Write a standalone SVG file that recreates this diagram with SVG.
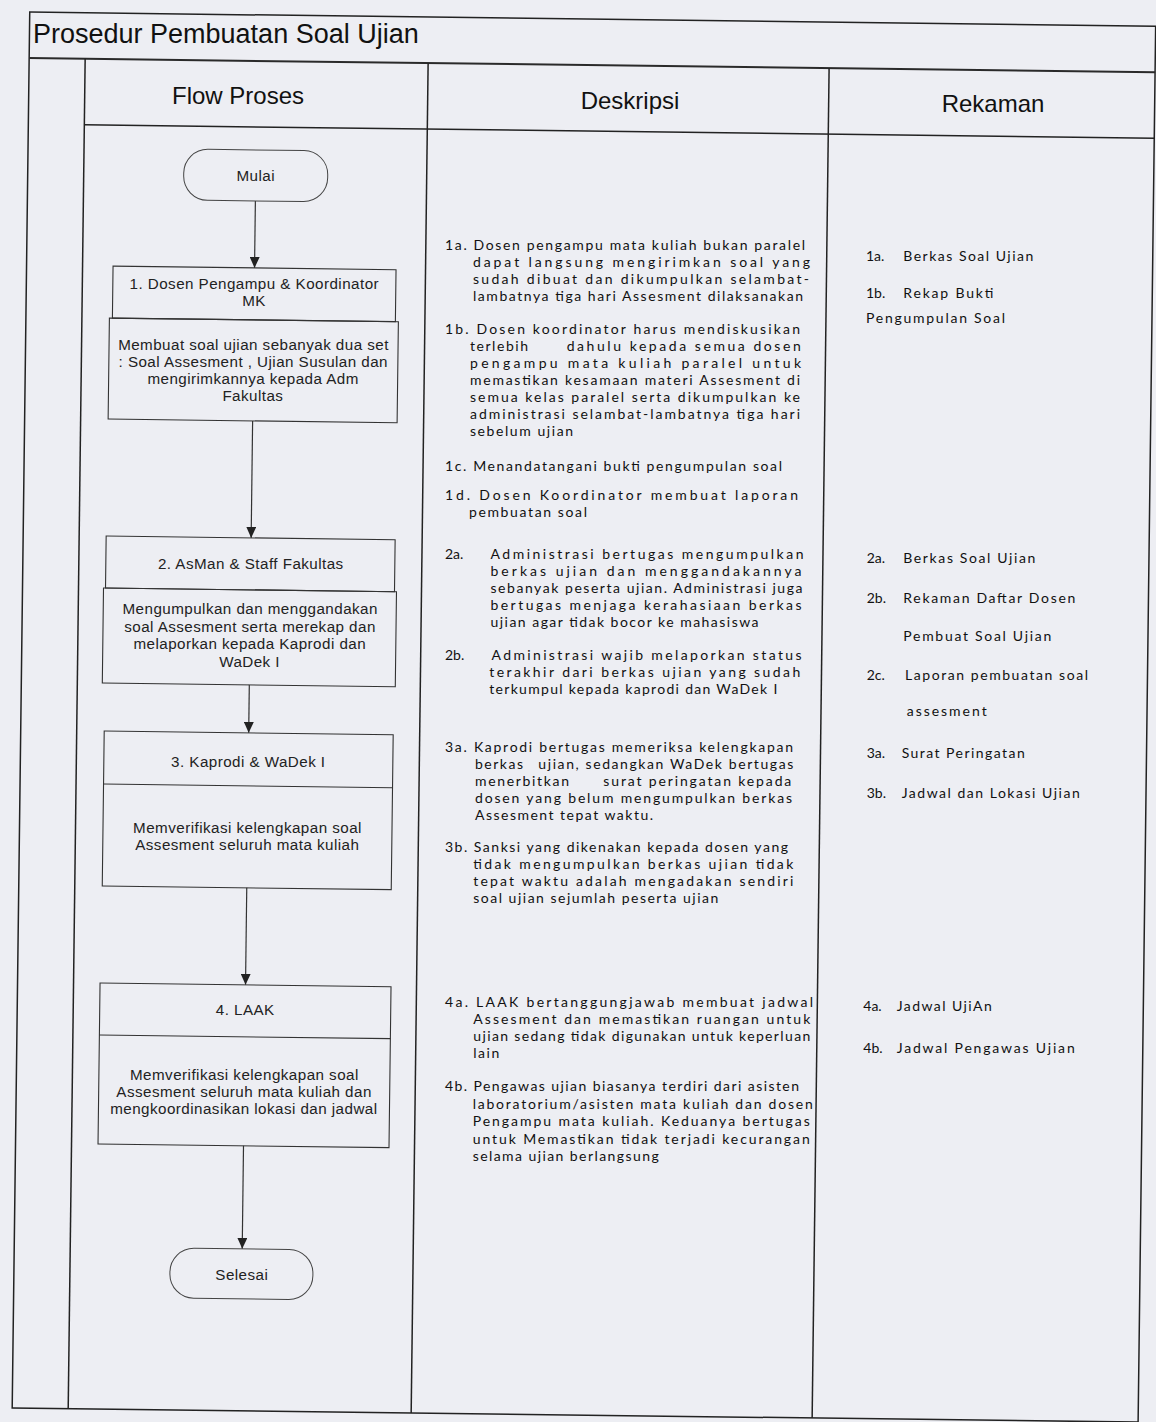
<svg xmlns="http://www.w3.org/2000/svg" width="1156" height="1422" viewBox="0 0 1156 1422">
<style>
.frame{stroke:#222;stroke-width:1.5;fill:none}
.thick{stroke:#2a2a2a;stroke-width:2;fill:none}
.box{fill:none;stroke:#333;stroke-width:1.1}
.term{fill:none;stroke:#444;stroke-width:1}
.ft{font-family:"Liberation Sans",Arial,sans-serif;font-size:15.2px;letter-spacing:0.45px;fill:#222;text-anchor:middle}
.hd{font-family:"Liberation Sans",Arial,sans-serif;font-size:24px;fill:#111;text-anchor:middle}
.ti{font-family:"Liberation Sans",Arial,sans-serif;font-size:27px;fill:#111}
.ds{font-family:Lato,"Open Sans",sans-serif;font-size:14px;fill:#111}
.conn{stroke:#333;stroke-width:1.2;fill:none;marker-end:url(#ah)}
</style>
<defs>
<marker id="ah" markerUnits="userSpaceOnUse" viewBox="0 0 11 10" markerWidth="11" markerHeight="10" refX="11" refY="5" orient="auto">
<path d="M0,0 L11,5 L0,10 z" fill="#222"/>
</marker>
</defs>
<rect x="0" y="0" width="1156" height="1422" fill="#edeef3"/>
<g id="frame">
<g transform="rotate(0.72 578 711)">
<rect class="frame" x="21" y="19" width="1126" height="1396"/>
<line class="thick" x1="21" y1="65" x2="1147" y2="65"/>
<line class="frame" x1="77" y1="65" x2="77" y2="1415"/>
<line class="frame" x1="420" y1="65" x2="420" y2="1415"/>
<line class="frame" x1="821" y1="65" x2="821" y2="1415"/>
<line class="frame" x1="77" y1="131" x2="1147" y2="131"/>
</g>
<text class="ti" x="33" y="43">Prosedur Pembuatan Soal Ujian</text>
<text class="hd" x="238" y="103.5">Flow Proses</text>
<text class="hd" x="630" y="108.5">Deskripsi</text>
<text class="hd" x="993" y="112">Rekaman</text>
</g>
<g id="connectors" transform="rotate(0.72 578 711)">
<line class="conn" x1="249" y1="205" x2="249" y2="272"/>
<line class="conn" x1="249" y1="425" x2="249" y2="542"/>
<line class="conn" x1="249" y1="689" x2="249" y2="737"/>
<line class="conn" x1="249" y1="892" x2="249" y2="989"/>
<line class="conn" x1="249" y1="1150" x2="249" y2="1253"/>
</g>
<g id="node-mulai">
<rect class="term" x="177" y="154" width="144" height="51" rx="24" transform="rotate(0.72 578 711)"/>
<text class="ft" x="255.7" y="181">Mulai</text>
</g>
<g id="node-1">
<g transform="rotate(0.72 578 711)">
<rect class="box" x="107.5" y="272" width="283" height="52"/>
<rect class="box" x="104.5" y="324" width="289" height="101"/>
</g>
<text class="ft" x="254.3" y="289">1. Dosen Pengampu &amp; Koordinator</text>
<text class="ft" x="254.1" y="306">MK</text>
<text class="ft" x="253.5" y="350">Membuat soal ujian sebanyak dua set</text>
<text class="ft" x="253.3" y="367">: Soal Assesment , Ujian Susulan dan</text>
<text class="ft" x="253.1" y="384">mengirimkannya kepada Adm</text>
<text class="ft" x="252.9" y="401">Fakultas</text>
</g>
<g id="node-2">
<g transform="rotate(0.72 578 711)">
<rect class="box" x="104" y="542" width="289" height="52"/>
<rect class="box" x="102" y="594" width="293" height="95"/>
</g>
<text class="ft" x="250.8" y="569">2. AsMan &amp; Staff Fakultas</text>
<text class="ft" x="250.2" y="614">Mengumpulkan dan menggandakan</text>
<text class="ft" x="250" y="631.7">soal Assesment serta merekap dan</text>
<text class="ft" x="249.8" y="649.3">melaporkan kepada Kaprodi dan</text>
<text class="ft" x="249.6" y="667">WaDek I</text>
</g>
<g id="node-3">
<g transform="rotate(0.72 578 711)">
<rect class="box" x="104.5" y="737" width="289" height="155"/>
<line class="box" x1="104.5" y1="790" x2="393.5" y2="790"/>
</g>
<text class="ft" x="248.3" y="767">3. Kaprodi &amp; WaDek I</text>
<text class="ft" x="247.5" y="833">Memverifikasi kelengkapan soal</text>
<text class="ft" x="247.3" y="850">Assesment seluruh mata kuliah</text>
</g>
<g id="node-4">
<g transform="rotate(0.72 578 711)">
<rect class="box" x="103.5" y="989" width="291" height="161"/>
<line class="box" x1="103.5" y1="1041" x2="394.5" y2="1041"/>
</g>
<text class="ft" x="245.2" y="1015">4. LAAK</text>
<text class="ft" x="244.4" y="1080">Memverifikasi kelengkapan soal</text>
<text class="ft" x="244.1" y="1097">Assesment seluruh mata kuliah dan</text>
<text class="ft" x="243.9" y="1114">mengkoordinasikan lokasi dan jadwal</text>
</g>
<g id="node-selesai">
<rect class="term" x="177" y="1253" width="143" height="50" rx="24" transform="rotate(0.72 578 711)"/>
<text class="ft" x="241.8" y="1280">Selesai</text>
</g>
<g id="deskripsi">
<text class="ds" x="445" y="249.5" textLength="360" lengthAdjust="spacing">1a. Dosen pengampu mata kuliah bukan paralel</text>
<text class="ds" x="473" y="266.7" textLength="337" lengthAdjust="spacing">dapat langsung mengirimkan soal yang</text>
<text class="ds" x="473" y="284" textLength="336" lengthAdjust="spacing">sudah dibuat dan dikumpulkan selambat-</text>
<text class="ds" x="473" y="301.2" textLength="330" lengthAdjust="spacing">lambatnya tiga hari Assesment dilaksanakan</text>
<text class="ds" x="445" y="334.3" textLength="355" lengthAdjust="spacing">1b. Dosen koordinator harus mendiskusikan</text>
<text class="ds" x="470" y="351.3" textLength="58" lengthAdjust="spacing">terlebih</text>
<text class="ds" x="566.7" y="351.3" textLength="234" lengthAdjust="spacing">dahulu kepada semua dosen</text>
<text class="ds" x="470" y="368.3" textLength="331" lengthAdjust="spacing">pengampu mata kuliah paralel untuk</text>
<text class="ds" x="470" y="385.3" textLength="330" lengthAdjust="spacing">memastikan kesamaan materi Assesment di</text>
<text class="ds" x="470" y="402.3" textLength="330" lengthAdjust="spacing">semua kelas paralel serta dikumpulkan ke</text>
<text class="ds" x="470" y="419.3" textLength="330" lengthAdjust="spacing">administrasi selambat-lambatnya tiga hari</text>
<text class="ds" x="470" y="436.3" textLength="103" lengthAdjust="spacing">sebelum ujian</text>
<text class="ds" x="445" y="471.2" textLength="337" lengthAdjust="spacing">1c. Menandatangani bukti pengumpulan soal</text>
<text class="ds" x="445" y="500" textLength="353" lengthAdjust="spacing">1d. Dosen Koordinator membuat laporan</text>
<text class="ds" x="469" y="517" textLength="118" lengthAdjust="spacing">pembuatan soal</text>
<text class="ds" x="445" y="559.3">2a.</text>
<text class="ds" x="490.5" y="559.3" textLength="313" lengthAdjust="spacing">Administrasi bertugas mengumpulkan</text>
<text class="ds" x="490.5" y="576.3" textLength="311" lengthAdjust="spacing">berkas ujian dan menggandakannya</text>
<text class="ds" x="490.5" y="593.3" textLength="312" lengthAdjust="spacing">sebanyak peserta ujian. Administrasi juga</text>
<text class="ds" x="490.5" y="610.3" textLength="311" lengthAdjust="spacing">bertugas menjaga kerahasiaan berkas</text>
<text class="ds" x="490.5" y="627.3" textLength="268" lengthAdjust="spacing">ujian agar tidak bocor ke mahasiswa</text>
<text class="ds" x="445" y="659.5">2b.</text>
<text class="ds" x="491.5" y="659.5" textLength="310" lengthAdjust="spacing">Administrasi wajib melaporkan status</text>
<text class="ds" x="489.3" y="676.7" textLength="311" lengthAdjust="spacing">terakhir dari berkas ujian yang sudah</text>
<text class="ds" x="489.3" y="693.8" textLength="288" lengthAdjust="spacing">terkumpul kepada kaprodi dan WaDek I</text>
<text class="ds" x="445" y="752.2" textLength="348" lengthAdjust="spacing">3a. Kaprodi bertugas memeriksa kelengkapan</text>
<text class="ds" x="475" y="769.2" textLength="48" lengthAdjust="spacing">berkas</text>
<text class="ds" x="538.3" y="769.2" textLength="255" lengthAdjust="spacing">ujian, sedangkan WaDek bertugas</text>
<text class="ds" x="475" y="786.2" textLength="94" lengthAdjust="spacing">menerbitkan</text>
<text class="ds" x="603.3" y="786.2" textLength="188" lengthAdjust="spacing">surat peringatan kepada</text>
<text class="ds" x="475" y="803.2" textLength="317" lengthAdjust="spacing">dosen yang belum mengumpulkan berkas</text>
<text class="ds" x="475" y="820.2" textLength="178" lengthAdjust="spacing">Assesment tepat waktu.</text>
<text class="ds" x="445" y="852.3" textLength="343" lengthAdjust="spacing">3b. Sanksi yang dikenakan kepada dosen yang</text>
<text class="ds" x="473.3" y="869.3" textLength="320" lengthAdjust="spacing">tidak mengumpulkan berkas ujian tidak</text>
<text class="ds" x="473.3" y="886.3" textLength="320" lengthAdjust="spacing">tepat waktu adalah mengadakan sendiri</text>
<text class="ds" x="473.3" y="903.3" textLength="245" lengthAdjust="spacing">soal ujian sejumlah peserta ujian</text>
<text class="ds" x="445" y="1007.3" textLength="368" lengthAdjust="spacing">4a. LAAK bertanggungjawab membuat jadwal</text>
<text class="ds" x="473.3" y="1024.3" textLength="337" lengthAdjust="spacing">Assesment dan memastikan ruangan untuk</text>
<text class="ds" x="473.3" y="1041.3" textLength="337" lengthAdjust="spacing">ujian sedang tidak digunakan untuk keperluan</text>
<text class="ds" x="473.3" y="1058.3" textLength="26" lengthAdjust="spacing">lain</text>
<text class="ds" x="445" y="1091.2" textLength="354" lengthAdjust="spacing">4b. Pengawas ujian biasanya terdiri dari asisten</text>
<text class="ds" x="472.7" y="1108.7" textLength="340" lengthAdjust="spacing">laboratorium/asisten mata kuliah dan dosen</text>
<text class="ds" x="472.7" y="1126.2" textLength="337" lengthAdjust="spacing">Pengampu mata kuliah. Keduanya bertugas</text>
<text class="ds" x="472.7" y="1143.7" textLength="337" lengthAdjust="spacing">untuk Memastikan tidak terjadi kecurangan</text>
<text class="ds" x="472.7" y="1161.2" textLength="186" lengthAdjust="spacing">selama ujian berlangsung</text>
</g>
<g id="rekaman">
<text class="ds" x="866" y="260.5">1a.</text>
<text class="ds" x="903.3" y="260.5" textLength="130" lengthAdjust="spacing">Berkas Soal Ujian</text>
<text class="ds" x="866" y="297.8">1b.</text>
<text class="ds" x="903.3" y="297.8" textLength="90" lengthAdjust="spacing">Rekap Bukti</text>
<text class="ds" x="866" y="322.8" textLength="139" lengthAdjust="spacing">Pengumpulan Soal</text>
<text class="ds" x="866.7" y="562.8">2a.</text>
<text class="ds" x="903.3" y="562.8" textLength="132" lengthAdjust="spacing">Berkas Soal Ujian</text>
<text class="ds" x="866.7" y="602.8">2b.</text>
<text class="ds" x="903.3" y="602.8" textLength="172" lengthAdjust="spacing">Rekaman Daftar Dosen</text>
<text class="ds" x="903.3" y="641.2" textLength="148" lengthAdjust="spacing">Pembuat Soal Ujian</text>
<text class="ds" x="866.7" y="679.5">2c.</text>
<text class="ds" x="905" y="679.5" textLength="183" lengthAdjust="spacing">Laporan pembuatan soal</text>
<text class="ds" x="906.7" y="716.2" textLength="80" lengthAdjust="spacing">assesment</text>
<text class="ds" x="866.7" y="757.8">3a.</text>
<text class="ds" x="901.7" y="757.8" textLength="123" lengthAdjust="spacing">Surat Peringatan</text>
<text class="ds" x="866.7" y="797.8">3b.</text>
<text class="ds" x="901.7" y="797.8" textLength="178" lengthAdjust="spacing">Jadwal dan Lokasi Ujian</text>
<text class="ds" x="863.3" y="1011.2">4a.</text>
<text class="ds" x="896.7" y="1011.2" textLength="95" lengthAdjust="spacing">Jadwal UjiAn</text>
<text class="ds" x="863.3" y="1052.8">4b.</text>
<text class="ds" x="896.7" y="1052.8" textLength="178" lengthAdjust="spacing">Jadwal Pengawas Ujian</text>
</g>
</svg>
